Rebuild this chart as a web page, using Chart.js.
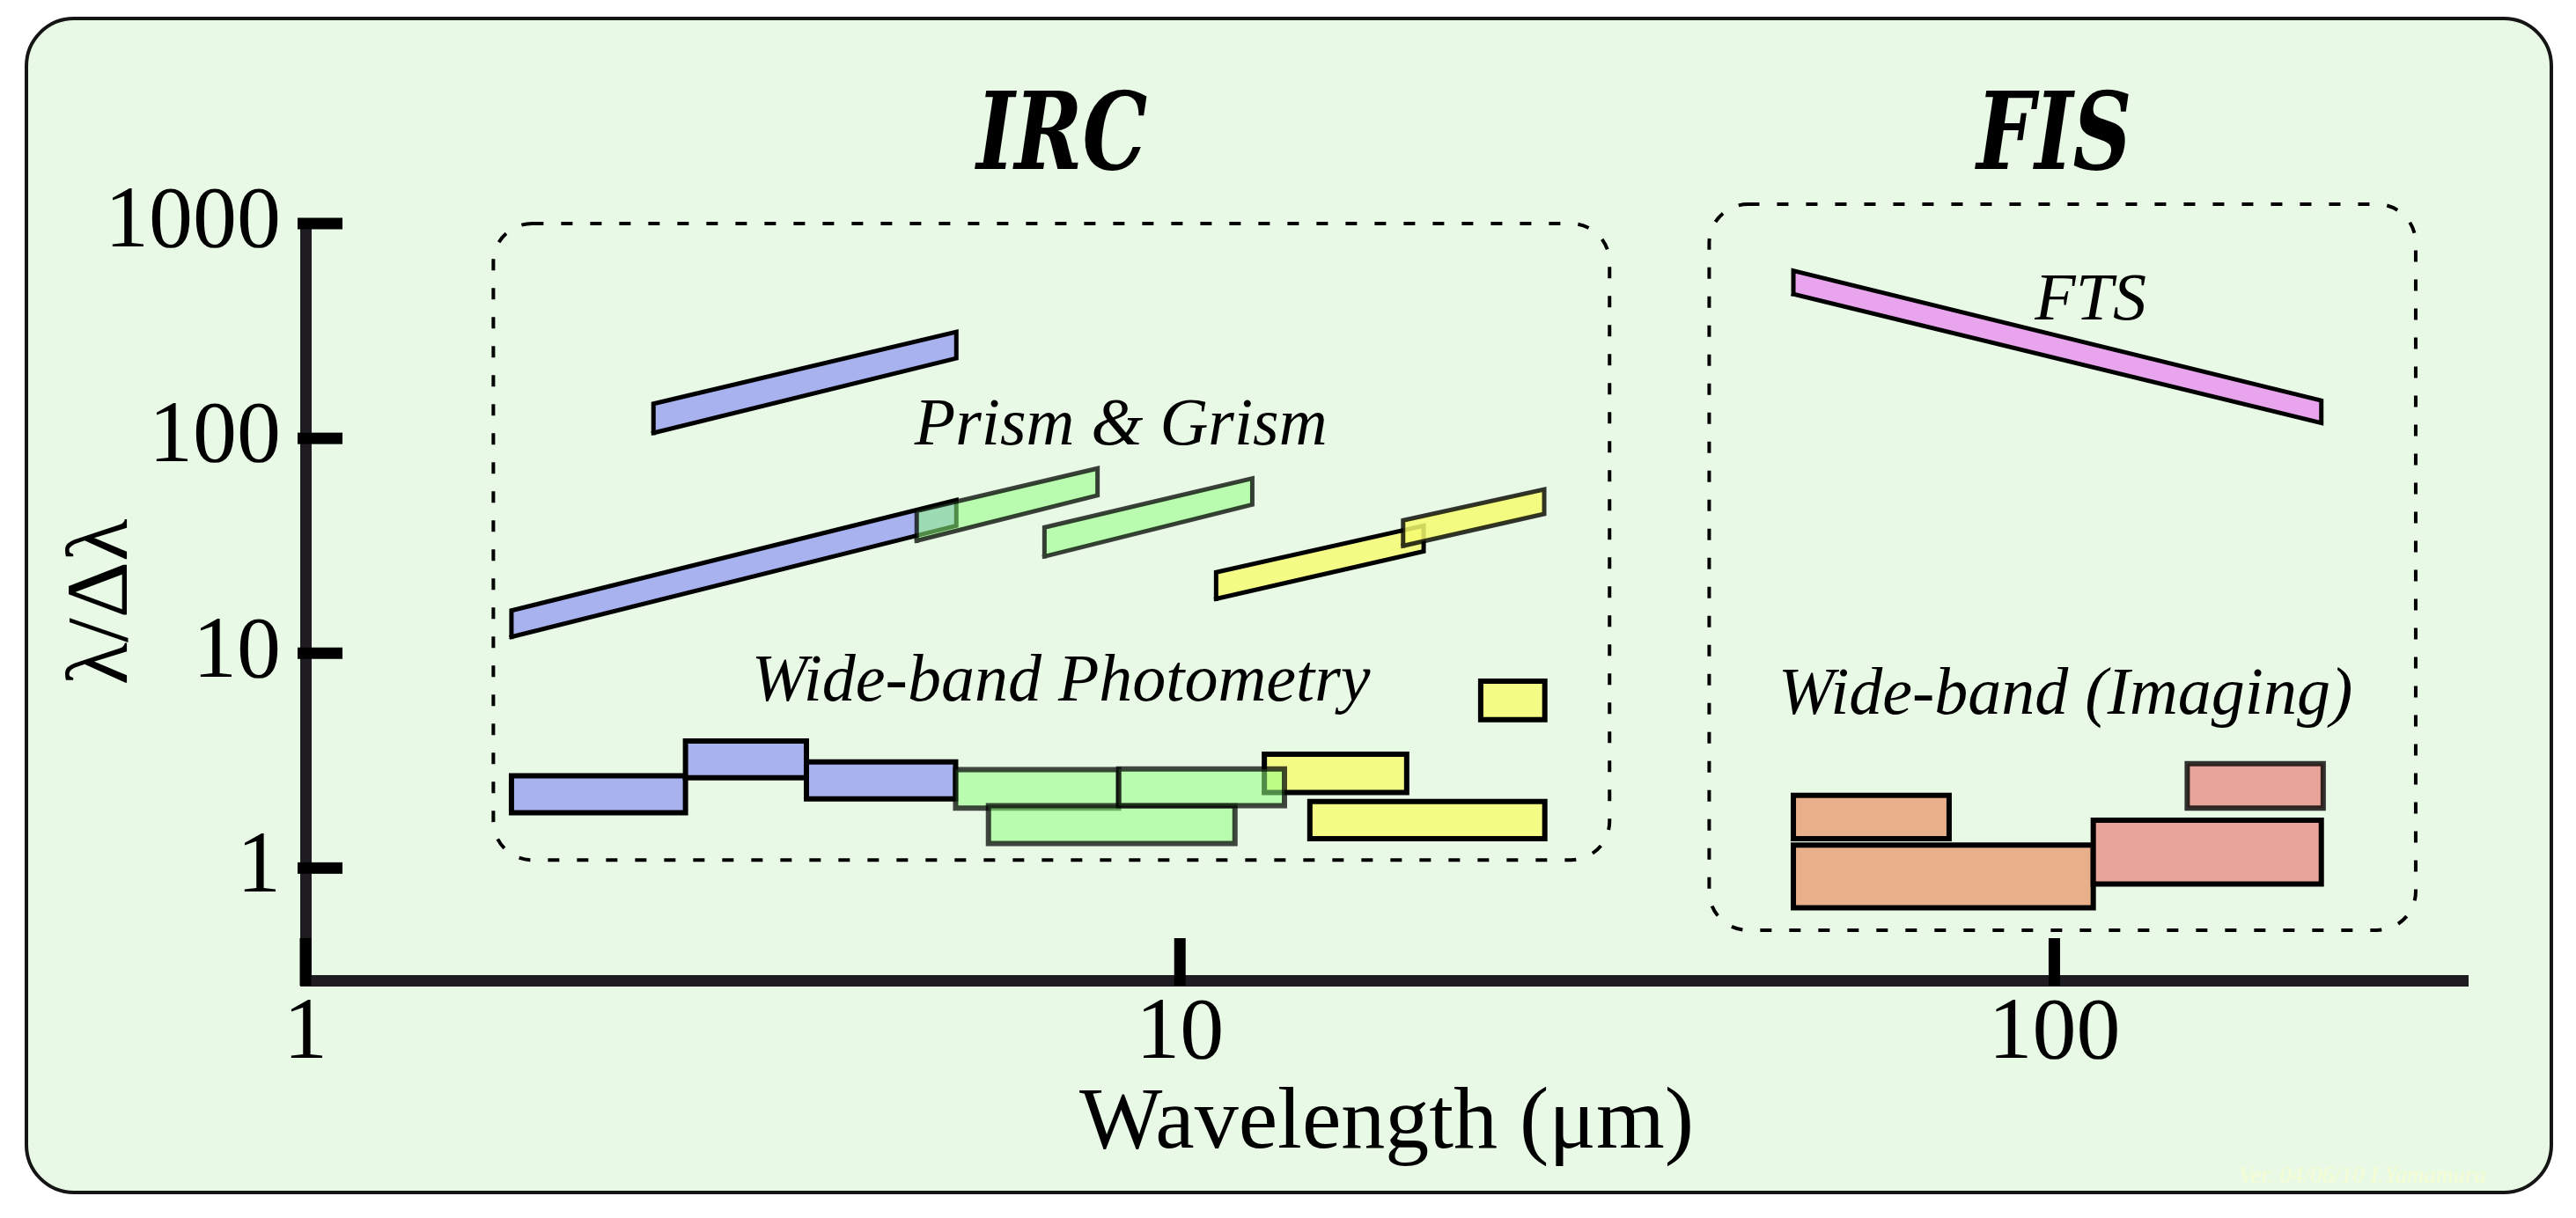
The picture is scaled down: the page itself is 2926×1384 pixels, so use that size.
<!DOCTYPE html>
<html>
<head>
<meta charset="utf-8">
<script src="https://cdn.jsdelivr.net/npm/chart.js"></script>
<style>
  html, body { margin: 0; padding: 0; background: #ffffff; }
  canvas { display: block; }
</style>
</head>
<body>
<canvas id="myChart" width="2926" height="1384"></canvas>
<script>
// Axis ticks
var xTicks = [1, 10, 100];
var yTicks = [1, 10, 100, 1000];

// Slanted bands: [lambda start, lambda end, R low left, R high left, R low right, R high right]
var prismBlue = [
  [2.5, 5.55, 106, 145, 236, 313],
  [1.72, 5.55, 11.9, 15.8, 39.2, 51.6]
];
var prismYellow = [
  [11.0, 19.0, 17.9, 23.8, 29.8, 39.2],
  [18.0, 26.1, 31.6, 41.5, 44.5, 57.9]
];
var prismGreen = [
  [5.0, 8.05, 33.4, 46.0, 54.3, 72.5],
  [7.0, 12.1, 28.2, 38.5, 49.2, 65.1]
];
var ftsBand = [50.3, 202, 469, 603, 118, 150];

// Wide bands: [lambda start, lambda end, R low, R high]
var photBlue = [[1.72, 2.72, 1.81, 2.69], [2.72, 3.74, 2.63, 3.90], [3.74, 5.54, 2.10, 3.12]];
var photYellow = [[12.49, 18.17, 2.25, 3.39], [14.08, 26.14, 1.37, 2.04], [22.08, 26.14, 4.91, 7.41]];
var photGreen = [[5.54, 8.51, 1.90, 2.87], [6.04, 11.56, 1.30, 1.95], [8.51, 13.17, 1.95, 2.89]];
var fisOrange = [[50.3, 75.8, 1.37, 2.18], [50.3, 110.8, 0.653, 1.28]];
var fisPink = [[110.8, 202, 0.843, 1.67], [141.9, 203, 1.90, 3.06]];

// Instrument groups (data coordinates)
var groupNames = ['IRC', 'FIS'];
var groupX = [[1.64, 31.0], [40.3, 259]];
var groupY = [[1.09, 1000], [0.514, 1230]];
var groupTitleX = [7.33, 100];
var groupTitleY = 1800;

var bandLabels = ['Prism & Grism', 'Wide-band Photometry', 'FTS', 'Wide-band (Imaging)'];
var bandLabelX = [8.56, 7.31, 110, 103];
var bandLabelY = [93.5, 6.04, 358, 5.25];

document.addEventListener('DOMContentLoaded', function () {

  var ctx = document.getElementById('myChart').getContext('2d');
  var axisColor = '#1e1c20';
  var datasets = [];

  function slanted(b) {
    return [
      { x: b[0], y: b[2] }, { x: b[1], y: b[4] }, { x: b[1], y: b[5] },
      { x: b[0], y: b[3] }, { x: b[0], y: b[2] }
    ];
  }
  function rect(b) {
    return [
      { x: b[0], y: b[2] }, { x: b[1], y: b[2] }, { x: b[1], y: b[3] },
      { x: b[0], y: b[3] }, { x: b[0], y: b[2] }
    ];
  }
  function add(points, fill, stroke, width) {
    datasets.push({
      data: points,
      backgroundColor: fill,
      borderColor: stroke,
      borderWidth: width,
      fill: 'shape',
      pointRadius: 0,
      borderJoinStyle: 'miter',
      borderCapStyle: 'square'
    });
  }

  prismBlue.forEach(function (b) { add(slanted(b), '#a8b2ee', '#000', 5); });
  photBlue.forEach(function (b) { add(rect(b), '#a8b2ee', '#000', 6); });
  add(slanted(prismYellow[0]), '#f4fc86', '#000', 5);
  add(slanted(prismYellow[1]), 'rgba(244,252,110,0.85)', 'rgba(0,0,0,0.8)', 5);
  photYellow.forEach(function (b) { add(rect(b), '#f4fc86', '#000', 6); });
  add(slanted(ftsBand), '#e8a4ec', '#000', 5);
  fisOrange.forEach(function (b) { add(rect(b), '#e8b08a', '#000', 6); });
  add(rect(fisPink[0]), '#e8a498', '#000', 6);
  add(rect(fisPink[1]), '#e8a498', 'rgba(0,0,0,0.8)', 6);
  prismGreen.forEach(function (b) { add(slanted(b), 'rgba(145,253,132,0.55)', 'rgba(0,0,0,0.75)', 5); });
  photGreen.forEach(function (b) { add(rect(b), 'rgba(145,253,132,0.55)', 'rgba(0,0,0,0.72)', 6); });

  // later datasets on top
  datasets.forEach(function (d, i) { d.order = -i; });

  function roundRect(c, x, y, w, h, r) {
    c.beginPath();
    c.moveTo(x + r, y);
    c.arcTo(x + w, y, x + w, y + h, r);
    c.arcTo(x + w, y + h, x, y + h, r);
    c.arcTo(x, y + h, x, y, r);
    c.arcTo(x, y, x + w, y, r);
    c.closePath();
  }

  var decor = {
    id: 'decor',
    beforeDraw: function (chart) {
      var c = chart.ctx;
      c.save();
      c.fillStyle = '#ffffff';
      c.fillRect(0, 0, chart.width, chart.height);
      roundRect(c, 30, 21, 2868, 1334, 54);
      c.fillStyle = '#e8fae6';
      c.fill();
      c.lineWidth = 4;
      c.strokeStyle = '#151515';
      c.stroke();
      c.restore();
    },
    beforeDatasetsDraw: function (chart) {
      var c = chart.ctx, sx = chart.scales.x, sy = chart.scales.y;
      c.save();
      c.setLineDash([13, 20]);
      c.lineWidth = 4;
      c.strokeStyle = '#000';
      for (var i = 0; i < groupNames.length; i++) {
        var x1 = sx.getPixelForValue(groupX[i][0]);
        var x2 = sx.getPixelForValue(groupX[i][1]);
        var y1 = sy.getPixelForValue(groupY[i][1]);
        var y2 = sy.getPixelForValue(groupY[i][0]);
        roundRect(c, x1, y1, x2 - x1, y2 - y1, 44);
        c.stroke();
      }
      c.restore();
    },
    afterDatasetsDraw: function (chart) {
      var c = chart.ctx, sx = chart.scales.x, sy = chart.scales.y;
      c.save();
      c.fillStyle = '#000';
      c.textAlign = 'center';
      c.textBaseline = 'alphabetic';
      c.font = 'italic 76px "Liberation Serif"';
      for (var i = 0; i < bandLabels.length; i++) {
        c.fillText(bandLabels[i], sx.getPixelForValue(bandLabelX[i]), sy.getPixelForValue(bandLabelY[i]));
      }
      c.font = 'italic bold 122px "DejaVu Serif"';
      for (var j = 0; j < groupNames.length; j++) {
        c.save();
        c.translate(sx.getPixelForValue(groupTitleX[j]), sy.getPixelForValue(groupTitleY));
        c.scale(0.76, 1);
        c.fillText(groupNames[j], 0, 0);
        c.restore();
      }
      c.restore();
    },
    afterDraw: function (chart) {
      var c = chart.ctx, sx = chart.scales.x, sy = chart.scales.y, area = chart.chartArea;
      c.save();
      c.fillStyle = '#000';
      sy.ticks.forEach(function (t) {
        var py = sy.getPixelForValue(t.value);
        c.fillRect(area.left - 9, py - 6.5, 51, 13);
      });
      sx.ticks.forEach(function (t) {
        var px = sx.getPixelForValue(t.value);
        c.fillRect(px - 6.5, area.bottom - 48, 13, 54);
      });
      // watermark
      c.font = 'italic 27px "Liberation Serif"';
      c.textAlign = 'right';
      c.fillStyle = '#f5fcd2';
      c.fillText('Ver. 04/06/10 I.Yamamura', 2824, 1344);
      c.restore();
    }
  };

  var tickFont = { family: 'Liberation Serif', size: 100 };

  var config = {
    type: 'line',
    data: { datasets: datasets },
    options: {
      responsive: false,
      devicePixelRatio: 1,
      animation: false,
      events: [],
      layout: { padding: { left: 0, top: 254, right: 123, bottom: 0 } },
      plugins: { legend: { display: false }, tooltip: { enabled: false } },
      elements: { point: { radius: 0 }, line: { tension: 0 } },
      scales: {
        x: {
          type: 'logarithmic',
          position: 'bottom',
          min: 1,
          max: 297,
          grid: { display: false, drawTicks: false },
          border: { display: true, color: axisColor, width: 13 },
          afterBuildTicks: function (s) { s.ticks = xTicks.map(function (v) { return { value: v }; }); },
          afterFit: function (s) { s.height = 270; },
          ticks: {
            font: tickFont, color: '#000', padding: 2, maxRotation: 0, autoSkip: false,
            callback: function (v) { return String(v); }
          },
          title: {
            display: true, text: 'Wavelength (μm)', color: '#000',
            font: { family: 'Liberation Serif', size: 100 },
            padding: { top: 0, bottom: 46 }
          }
        },
        y: {
          type: 'logarithmic',
          position: 'left',
          min: 0.3,
          max: 1000,
          grid: { display: false, drawTicks: false },
          border: { display: true, color: axisColor, width: 13 },
          afterBuildTicks: function (s) { s.ticks = yTicks.map(function (v) { return { value: v }; }); },
          afterFit: function (s) { s.width = 347; },
          ticks: {
            font: tickFont, color: '#000', padding: 28, autoSkip: false,
            callback: function (v) { return String(v); }
          },
          title: {
            display: true, text: 'λ/Δλ', color: '#000',
            font: { family: 'Liberation Serif', size: 100 },
            padding: { top: 58, bottom: 0 }
          }
        }
      }
    },
    plugins: [decor]
  };

  var myChart = new Chart(ctx, config);
});
</script>
</body>
</html>
